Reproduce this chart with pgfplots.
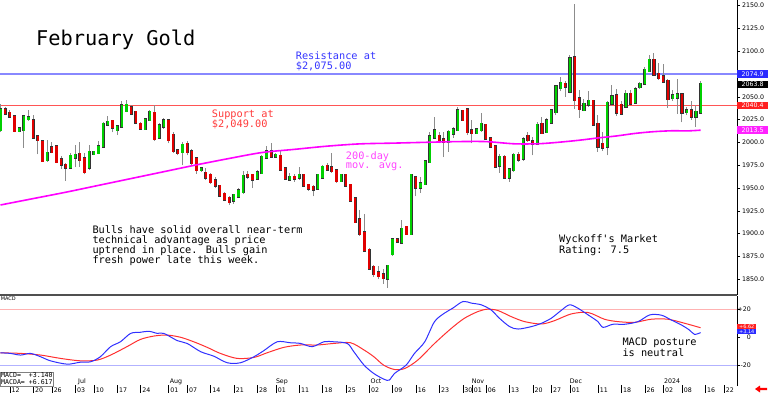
\documentclass[border=0pt]{standalone}
\usepackage{pgfplots}
\pgfplotsset{compat=1.18}
\usepackage{pgfplotstable}
\usepackage{fontspec}
\setmainfont{DejaVu Sans}
\newfontfamily\mono{DejaVu Sans Mono}
\definecolor{cgreen}{HTML}{00D000}
\definecolor{cred}{HTML}{E00000}
\definecolor{wick}{HTML}{8C8C8C}
\definecolor{resblue}{HTML}{8888FF}
\definecolor{txtblue}{HTML}{3535FF}
\definecolor{suppred}{HTML}{FF5555}
\definecolor{txtred}{HTML}{FF3A3A}
\definecolor{mag}{HTML}{FF00FF}
\definecolor{txtmag}{HTML}{FF44FF}
\definecolor{macdblue}{HTML}{3030FF}
\definecolor{macdred}{HTML}{FF3030}
\definecolor{sepgray}{HTML}{505050}
\definecolor{boxblue}{HTML}{2A2AFF}
\definecolor{boxred}{HTML}{FF2020}
\definecolor{boxmag}{HTML}{FF22FF}
\newcommand{\dl}[1]{\rule[-1pt]{0.5pt}{8pt}\hspace{1.5pt}#1}
\newcommand{\anno}{\mono\fontsize{10.3}{12}\selectfont}
\newcommand{\tk}{\fontsize{6.3}{7}\selectfont}

\pgfplotstableread{
k o h l c
0 2014 2042 2012 2036
4 2013 2016 2011 2015
5 2014 2030 1994 2028
6 2026 2036 2024 2027
10 1981 2003 1979 1988
15 1973 1988 1971 1985
16 1984 1997 1973 1986
19 1973 1997 1970 1989
20 1988 1991 1986 1989
21 1989 2002 1987 1995
22 1996 2023 1996 2020
23 2020 2029 2018 2022
25 2014 2019 2008 2017
26 2018 2046 2017 2040
27 2035 2047 2033 2041
31 2015 2027 2014 2025
32 2025 2036 2024 2033
34 2006 2021 2005 2018
35 2018 2027 2015 2024
39 1990 2001 1975 1997
43 1970 1973 1968 1971
50 1937 1944 1933 1942
51 1941 1950 1939 1947
52 1946 1969 1944 1963
55 1961 1970 1960 1967
56 1967 1986 1966 1984
57 1984 1996 1983 1990
59 1985 1988 1984 1986
62 1960 1967 1958 1962
64 1962 1973 1959 1964
68 1950 1966 1949 1964
69 1962 1975 1961 1973
73 1958 1966 1957 1964
83 1851 1866 1841 1864
84 1878 1895 1876 1893
86 1891 1915 1890 1905
88 1900 1965 1899 1964
90 1951 1962 1945 1955
91 1955 1981 1954 1979
92 1979 2012 1978 2006
93 2006 2028 2005 2013
96 2001 2014 1990 2011
97 2010 2017 2005 2014
98 2014 2039 2013 2035
102 2011 2016 2010 2014
103 2014 2032 2012 2020
107 1975 1987 1967 1984
109 1962 1972 1957 1970
110 1970 1988 1968 1986
112 1983 2006 1980 2003
115 1999 2023 1997 2019
117 2012 2027 2010 2024
118 2022 2036 2021 2035
119 2034 2063 2030 2061
120 2060 2072 2056 2065
122 2056 2096 2054 2092
125 2036 2048 2034 2042
126 2042 2057 2039 2045
130 1996 2045 1986 2043
131 2043 2063 2040 2050
134 2040 2058 2039 2053
136 2044 2061 2042 2058
137 2061 2066 2059 2064
138 2065 2083 2064 2079
139 2079 2096 2078 2090
144 2049 2058 2046 2051
145 2050 2070 2031 2052
147 2034 2039 2030 2035
149 2029 2041 2017 2033
150 2033 2067 2032 2063.8
}\greens

\pgfplotstableread{
k o h l c
1 2036 2039 2030 2032
2 2032 2036 2028 2029
3 2028 2030 2011 2013
7 2024 2030 2005 2006
8 2006 2007 1987 2003
9 2001 2002 1979 1980
11 1994 2001 1988 1990
12 1995 1996 1977 1979
13 1981 1985 1971 1976
14 1975 1977 1958 1973
17 1987 2001 1973 1981
18 1982 1989 1965 1968
24 2023 2025 2011 2017
28 2038 2041 2030 2032
29 2033 2034 2020 2022
30 2020 2022 2014 2016
33 2032 2041 2002 2004
36 2024 2026 1999 2003
37 2008 2012 1989 1991
38 1991 1993 1986 1989
40 1998 2002 1986 1990
41 1990 1993 1974 1978
42 1982 1984 1966 1970
44 1966 1972 1959 1962
45 1964 1967 1955 1957
46 1958 1962 1950 1953
47 1952 1953 1940 1942
48 1943 1946 1936 1938
49 1939 1941 1932 1935
53 1964 1969 1960 1963
54 1964 1966 1950 1960
58 1990 1999 1984 1985
60 1985 1992 1969 1971
61 1971 1973 1959 1961
63 1962 1966 1957 1961
65 1964 1966 1951 1953
66 1953 1955 1947 1950
67 1951 1953 1941 1949
70 1974 1977 1970 1971
71 1972 1988 1967 1969
72 1969 1971 1956 1958
74 1964 1966 1951 1953
75 1953 1954 1936 1937
76 1938 1939 1912 1913
77 1915 1926 1898 1900
78 1901 1922 1880 1882
79 1882 1884 1860 1862
80 1863 1866 1853 1856
81 1857 1865 1850 1854
82 1855 1861 1845 1852
85 1893 1894 1891 1892
87 1907 1909 1899 1900
89 1961 1962 1941 1951
94 2007 2011 1999 2003
95 2003 2012 1984 2001
99 2034 2036 2024 2025
100 2036 2038 2008 2012
101 2013 2025 1999 2011
104 2019 2020 2004 2005
105 2004 2006 1994 1996
106 1995 1997 1972 1974
108 1984 1986 1961 1962
111 1986 1990 1979 1982
113 2007 2011 2001 2003
114 2001 2006 1986 1999
116 2020 2028 2010 2011
121 2064 2067 2050 2062
123 2093 2152 2037 2047
124 2048 2058 2027 2037
127 2045 2047 2018 2020
128 2020 2030 1990 1996
129 1998 2011 1991 1995
132 2051 2059 2029 2033
133 2041 2045 2030 2032
135 2053 2058 2041 2043
140 2090 2098 2074 2075
141 2075 2087 2069 2071
142 2072 2086 2065 2067
143 2067 2070 2038 2048
146 2052 2054 2022 2033
148 2035 2045 2025 2029
}\reds

\pgfplotstableread{
k v
0 1931.5
7 1938.5
14 1945.5
21 1953
28 1960.5
35 1968
42 1975.5
49 1982.5
56 1989
63 1992.5
70 1996
77 1998.5
84 1999.3
91 2000.2
98 2001
104 2001
110 1998.6
115 1998.6
119 2000
124 2002.5
128 2005
132 2007.2
136 2010
140 2011.9
144 2012.9
147 2012.7
150 2013.5
}\ma

\pgfplotstableread{
k v
0 -11.3
2.1 -11.7
4.3 -12.9
6.4 -11.7
8.6 -14.1
10.7 -17
14.3 -19.4
17.1 -18
19.3 -17.7
21.4 -14.1
23.6 -6.9
25.7 -3.4
27.9 2.6
30 3.4
31.8 4.1
33.6 2.6
35 2.6
37.9 -2.6
40 -4.6
42.9 -10.5
45.7 -13.7
48.6 -18.4
51.4 -18.4
54.3 -14.1
56.4 -9.8
59.3 -3.4
62.1 -4.1
64.3 -4.6
66.8 -6.9
69.3 -3.4
71.4 -3.4
74.3 -4.6
75.7 -10.5
77.9 -20.1
80 -26.1
82.2 -30.2
83.3 -30.8
84.4 -26.1
86.9 -20.1
88.7 -11.7
90.9 -3.4
93 11
95.1 17
96.9 20.6
99.1 25.4
100.9 24.2
103 23
105.1 19.4
106.9 13.4
109.1 7.4
110.9 5.7
113.7 7.4
115.9 9.8
118 13.4
120.1 18.9
121.9 23
123.7 20.6
125.9 15.8
128 11
129.1 6.9
131.2 9.1
133.7 9.1
136.6 11
139.1 15.8
141.6 15.6
143.7 12.2
145.9 8.6
147.6 5
148.7 1.9
150 3.14
}\macd

\pgfplotstableread{
k v
0 -11.3
4.3 -11.7
8.6 -12.9
12.9 -15.3
17.1 -17
20.7 -16.5
23.6 -12.9
27.1 -6.9
30 -1.7
32.9 0.7
35.7 1.4
38.6 -0.2
41.4 -3.4
44.3 -7.4
47.1 -11.7
50.7 -15.3
54.3 -14.6
57.1 -11.3
60.7 -7.4
64.3 -5.7
67.9 -5.7
71.4 -4.6
75 -4.1
77.9 -9.3
80 -14.1
82.1 -20.1
84.4 -23.2
86.6 -22.5
89.4 -16.5
93 -4.6
96.6 6.2
99.4 13.4
102.3 18.2
104.4 19.9
106.6 18.9
109.4 14.6
112.3 11
115.9 9.3
118.7 11.7
122.3 16.5
125.9 17.5
129.4 12.7
132.3 11
135.9 10.5
139.4 12.7
143 12.7
146.6 9.8
150 6.62
}\macda

\begin{document}
\begin{tikzpicture}
\useasboundingbox (0,0) rectangle (768bp,-393bp);
\begin{axis}[
  at={(0,0)}, anchor=north west,
  scale only axis, width=737bp, height=295bp,
  xmin=-0.1, xmax=157.8, ymin=1832.8, ymax=2156.25,
  axis x line=none, axis y line*=right,
  axis line style={line width=0.8bp, black},
  tick align=outside, major tick length=3bp,
  ytick={1850,1875,...,2150},
  yticklabel={\pgfmathprintnumber[fixed,fixed zerofill,precision=1,1000 sep={},assume math mode=true]{\tick}},
  yticklabel style={font=\tk, anchor=west, inner sep=0pt, xshift=2bp},
  ytick style={black, line width=0.5bp},
  clip mode=individual,
]
% support / resistance
\addplot[resblue, line width=1.4bp, mark=none] coordinates {(-0.1,2074.9) (157.8,2074.9)};
\addplot[suppred, line width=0.8bp, mark=none] coordinates {(-0.1,2040.4) (157.8,2040.4)};
% wicks
\addplot[draw=none, mark=none, error bars/.cd, y dir=plus, y explicit, error mark=none,
  error bar style={draw=wick, line width=0.9bp}]
  table[x=k, y=l, y error plus expr=\thisrow{h}-\thisrow{l}] {\greens};
\addplot[draw=none, mark=none, error bars/.cd, y dir=plus, y explicit, error mark=none,
  error bar style={draw=wick, line width=0.9bp}]
  table[x=k, y=l, y error plus expr=\thisrow{h}-\thisrow{l}] {\reds};
% bodies
\addplot[draw=none, mark=none, error bars/.cd, y dir=plus, y explicit, error mark=none,
  error bar style={draw=black!80, line width=3.2bp, line cap=rect}]
  table[x=k, y=o, y error plus expr=\thisrow{c}-\thisrow{o}] {\greens};
\addplot[draw=none, mark=none, error bars/.cd, y dir=plus, y explicit, error mark=none,
  error bar style={draw=cgreen, line width=2.1bp, line cap=rect}]
  table[x=k, y=o, y error plus expr=\thisrow{c}-\thisrow{o}] {\greens};
\addplot[draw=none, mark=none, error bars/.cd, y dir=plus, y explicit, error mark=none,
  error bar style={draw=black!80, line width=3.2bp, line cap=rect}]
  table[x=k, y=c, y error plus expr=\thisrow{o}-\thisrow{c}] {\reds};
\addplot[draw=none, mark=none, error bars/.cd, y dir=plus, y explicit, error mark=none,
  error bar style={draw=cred, line width=2.1bp, line cap=rect}]
  table[x=k, y=c, y error plus expr=\thisrow{o}-\thisrow{c}] {\reds};
% 200-day MA
\addplot[mag, line width=1.6bp, mark=none, smooth] table[x=k, y=v] {\ma};
% texts
\node[anchor=base west, inner sep=0, font=\mono\fontsize{20.4}{24}\selectfont] at (axis cs:7.61,2106.9) {February Gold};
\node[anchor=base west, inner sep=0, font=\anno, text=txtblue] at (axis cs:63.25,2091.2) {Resistance at};
\node[anchor=base west, inner sep=0, font=\anno, text=txtblue] at (axis cs:63.25,2079.8) {\$2,075.00};
\node[anchor=base west, inner sep=0, font=\anno, text=txtred] at (axis cs:45.26,2027.6) {Support at};
\node[anchor=base west, inner sep=0, font=\anno, text=txtred] at (axis cs:45.26,2016.7) {\$2,049.00};
\node[anchor=base west, inner sep=0, font=\anno, text=txtmag] at (axis cs:73.97,1981.6) {200-day};
\node[anchor=base west, inner sep=0, font=\anno, text=txtmag] at (axis cs:73.97,1971.2) {mov. avg.};
\node[anchor=base west, inner sep=0, font=\anno] at (axis cs:19.68,1900.4) {Bulls have solid overall near-term};
\node[anchor=base west, inner sep=0, font=\anno] at (axis cs:19.68,1889.3) {technical advantage as price};
\node[anchor=base west, inner sep=0, font=\anno] at (axis cs:19.68,1878.3) {uptrend in place. Bulls gain};
\node[anchor=base west, inner sep=0, font=\anno] at (axis cs:19.68,1866.8) {fresh power late this week.};
\node[anchor=base west, inner sep=0, font=\anno] at (axis cs:119.66,1890.1) {Wyckoff's Market};
\node[anchor=base west, inner sep=0, font=\anno] at (axis cs:119.66,1878.5) {Rating: 7.5};
\draw[sepgray, line width=2bp] (rel axis cs:0,0) -- (rel axis cs:1,0);
\coordinate (b1) at (axis cs:157.8,2074.9);
\coordinate (b2) at (axis cs:157.8,2063.8);
\coordinate (b3) at (axis cs:157.8,2040.4);
\coordinate (b4) at (axis cs:157.8,2013.5);
\end{axis}
\node[fill=boxblue, text=white, font=\tk, minimum width=31bp, minimum height=7.5bp, inner sep=0, anchor=west] at (b1) {2074.9};
\node[fill=black, text=white, font=\tk, minimum width=31bp, minimum height=7.5bp, inner sep=0, anchor=west] at (b2) {2063.8};
\node[fill=boxred, text=white, font=\tk, minimum width=31bp, minimum height=7.5bp, inner sep=0, anchor=west] at (b3) {2040.4};
\node[fill=boxmag, text=white, font=\tk, minimum width=31bp, minimum height=7.5bp, inner sep=0, anchor=west] at (b4) {2013.5};

\begin{axis}[
  at={(0,-296bp)}, anchor=north west,
  scale only axis, width=737bp, height=90bp,
  xmin=-0.1, xmax=157.8, ymin=-35, ymax=29.3,
  axis x line*=bottom, axis y line*=right,
  x axis line style={draw=none},
  y axis line style={line width=0.8bp, black},
  tick align=outside, major tick length=3bp,
  xtick={2,7,11,16,20,25,30,36,40,45,50,55,59,64,69,74,79,84,89,94,99,101,104,109,114,118,122,128,133,138,142,146,151,155},
  xticklabels={\dl{12},\dl{20},\dl{26},\dl{03},\dl{10},\dl{17},\dl{24},\dl{01},\dl{07},\dl{14},\dl{21},\dl{28},\dl{01},\dl{11},\dl{18},\dl{25},\dl{02},\dl{09},\dl{16},\dl{23},\dl{30},\dl{01},\dl{06},\dl{13},\dl{20},\dl{27},\dl{01},\dl{11},\dl{18},\dl{26},\dl{02},\dl{08},\dl{16},\dl{22}},
  xtick style={draw=none},
  xticklabel style={font=\tk, anchor=north west, inner sep=0pt, xshift=-0.25bp, yshift=4bp},
  ytick={-20,0,20}, yticklabels={-20,0,+20},
  yticklabel style={font=\tk, anchor=east, inner sep=0pt, xshift=11bp},
  ytick style={black, line width=0.5bp},
  clip mode=individual,
]
\addplot[red!30, line width=0.6bp, mark=none] coordinates {(-0.1,20) (157.8,20)};
\addplot[blue!30, line width=0.6bp, mark=none] coordinates {(-0.1,-20) (157.8,-20)};
\addplot[macdred, line width=1bp, mark=none, smooth] table[x=k, y=v] {\macda};
\addplot[macdblue, line width=1bp, mark=none, smooth] table[x=k, y=v] {\macd};
\node[anchor=north west, inner sep=0.6bp, font=\fontsize{5}{5}\selectfont] at (rel axis cs:0,1) {MACD};
\node[draw=gray, fill=white, anchor=south west, inner sep=1bp, align=left, font=\mono\fontsize{6.6}{6.8}\selectfont] at (rel axis cs:0,0) {MACD=~~+3.140\\MACDA=~+6.617};
\node[anchor=base west, inner sep=0, font=\anno] at (axis cs:133.23,-6.2) {MACD posture};
\node[anchor=base west, inner sep=0, font=\anno] at (axis cs:133.23,-13.6) {is neutral};
\node[font=\tk, inner sep=0] at (axis cs:17.47,-31.8) {Jul};
\node[font=\tk, inner sep=0] at (axis cs:37.6,-31.8) {Aug};
\node[font=\tk, inner sep=0] at (axis cs:60.3,-31.8) {Sep};
\node[font=\tk, inner sep=0] at (axis cs:80.46,-31.8) {Oct};
\node[font=\tk, inner sep=0] at (axis cs:102.3,-31.8) {Nov};
\node[font=\tk, inner sep=0] at (axis cs:123.3,-31.8) {Dec};
\node[font=\tk, inner sep=0] at (axis cs:143.9,-31.8) {2024};
\coordinate (m1) at (axis cs:157.8,7.36);
\coordinate (m2) at (axis cs:157.8,3.79);
\end{axis}
\node[fill=boxred, text=white, font=\fontsize{5}{5}\selectfont, minimum width=19bp, minimum height=5bp, inner sep=0, anchor=west] at (m1) {+6.62};
\node[fill=boxblue, text=white, font=\fontsize{5}{5}\selectfont, minimum width=19bp, minimum height=5bp, inner sep=0, anchor=west] at (m2) {+3.14};
\fill[red] (755bp,-389bp) -- (760bp,-385.5bp) -- (760bp,-387.8bp) -- (767bp,-387.8bp) -- (767bp,-390.2bp) -- (760bp,-390.2bp) -- (760bp,-392.5bp) -- cycle;
\end{tikzpicture}
\end{document}
